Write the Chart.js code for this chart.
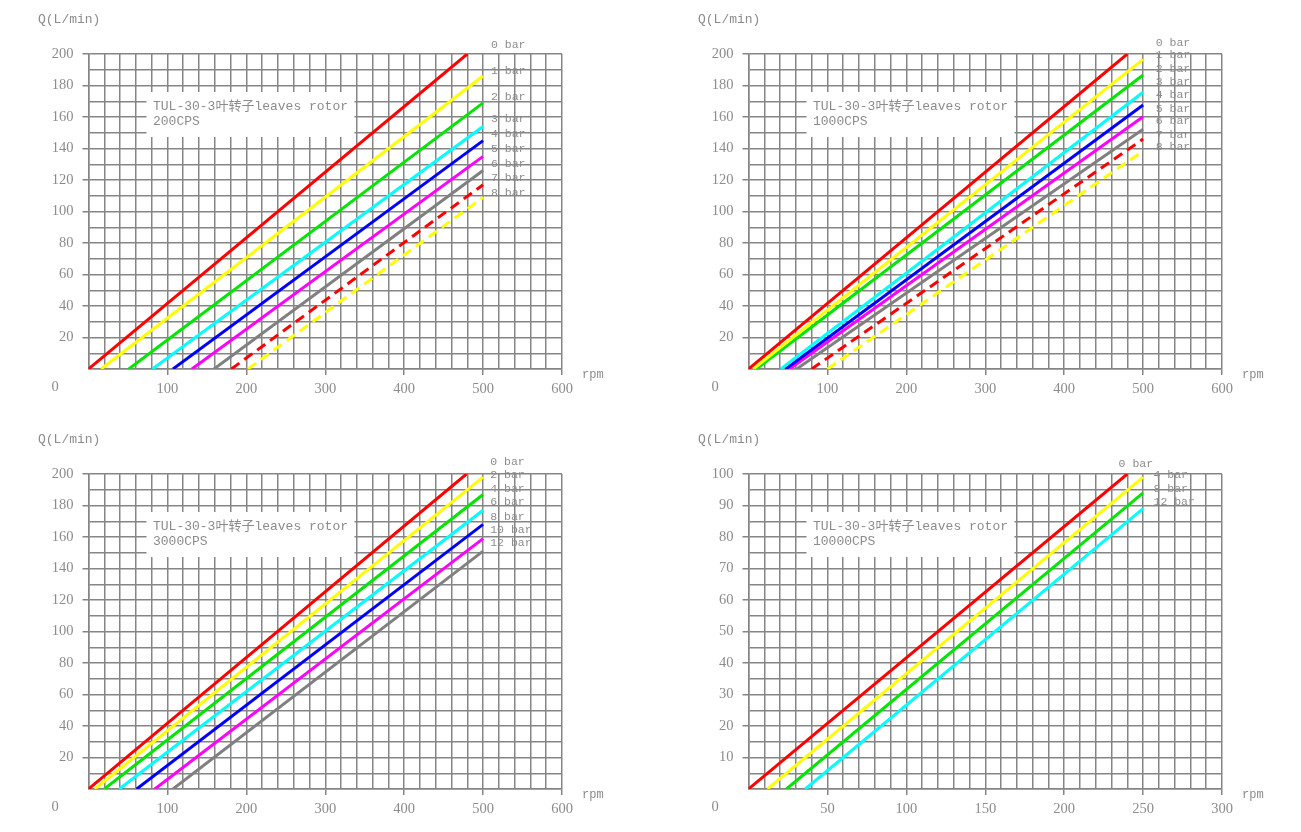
<!DOCTYPE html>
<html><head><meta charset="utf-8">
<script src="https://cdn.jsdelivr.net/npm/chart.js@4.4.1/dist/chart.umd.min.js"></script>
<style>
html,body{margin:0;padding:0;background:#fff;width:1301px;height:832px;overflow:hidden}
canvas{position:absolute}
</style></head><body>
<canvas id="c1" width="650" height="416" style="left:0px;top:0px"></canvas>
<canvas id="c2" width="650" height="416" style="left:660px;top:0px"></canvas>
<canvas id="c3" width="650" height="416" style="left:0px;top:420px"></canvas>
<canvas id="c4" width="650" height="416" style="left:660px;top:420px"></canvas>
<script>
// ---------- shared text ----------
const modelName = 'TUL-30-3叶转子leaves rotor';
const yAxisTitle = 'Q(L/min)';
const xAxisTitle = 'rpm';

// ---------- chart 1 : 200CPS ----------
const c1Viscosity = '200CPS';
const c1Pressures = ['0 bar','1 bar','2 bar','3 bar','4 bar','5 bar','6 bar','7 bar','8 bar'];
const c1StartRpm  = [0, 16, 51, 81, 107, 131, 159, 181, 202];
const c1EndRpm    = [480, 500, 500, 500, 500, 500, 500, 500, 500];
const c1EndFlow   = [200, 186, 169, 154, 145, 135, 126, 117, 109];
const c1LabelRpm  = [510, 510, 510, 510, 510, 510, 510, 510, 510];
const c1LabelFlow = [206, 189, 173, 159, 149, 140, 130, 121, 112];

// ---------- chart 2 : 1000CPS ----------
const c2Viscosity = '1000CPS';
const c2Pressures = ['0 bar','1 bar','2 bar','3 bar','4 bar','5 bar','6 bar','7 bar','8 bar'];
const c2StartRpm  = [0, 6, 10, 41, 47, 52, 61, 80, 100];
const c2EndRpm    = [480, 500, 500, 500, 500, 500, 500, 500, 500];
const c2EndFlow   = [200, 196.6, 186.7, 175.7, 167.6, 160.2, 152.2, 146, 138.4];
const c2LabelRpm  = [516, 516, 516, 516, 516, 516, 516, 516, 516];
const c2LabelFlow = [207, 199.4, 190.5, 182.4, 174, 165, 157.5, 148.6, 140.8];

// ---------- chart 3 : 3000CPS ----------
const c3Viscosity = '3000CPS';
const c3Pressures = ['0 bar','2 bar','4 bar','6 bar','8 bar','10 bar','12 bar'];
const c3StartRpm  = [0, 8, 20, 39, 61, 84, 107];
const c3EndRpm    = [479, 500, 500, 500, 500, 500, 500];
const c3EndFlow   = [200, 198, 187, 177, 168, 159, 151];
const c3LabelRpm  = [509, 509, 509, 509, 509, 509, 509];
const c3LabelFlow = [207.5, 199.4, 190.3, 182, 173, 164.4, 156];

// ---------- chart 4 : 10000CPS ----------
const c4Viscosity = '10000CPS';
const c4Pressures = ['0 bar','4 bar','8 bar','12 bar'];
const c4StartRpm  = [0, 12, 24, 36];
const c4EndRpm    = [240, 250, 250, 250];
const c4EndFlow   = [100, 99, 94, 89];
const c4LabelRpm  = [234.5, 256.6, 256.6, 256.6];
const c4LabelFlow = [103.2, 99.6, 95.2, 91.2];

// ---------- axis ranges ----------
const axesA = { xMax: 600, xGrid: 20, xLabelEvery: 100, yMax: 200, yGrid: 10, yLabelEvery: 20 };
const axesB = { xMax: 300, xGrid: 10, xLabelEvery: 50,  yMax: 100, yGrid: 5,  yLabelEvery: 10 };

// ---------- styles ----------
const colors9 = ['#ff0000','#ffff00','#00e600','#00ffff','#0000ff','#ff00ff','#808080','#ff0000','#ffff00'];
const dashes9 = [false,false,false,false,false,false,false,true,true];
const gridColor = '#858585';
const textColor = '#8c8c8c';
const monoFont = '"Liberation Mono","Noto Sans CJK SC",monospace';
const numFont = '"Liberation Serif","DejaVu Serif",serif';

const overlay = {
  id: 'overlay',
  beforeDatasetsDraw(chart, args, o) {
    const a = chart.chartArea, ctx = chart.ctx;
    ctx.save();
    ctx.fillStyle = '#ffffff';
    ctx.fillRect(a.left + 58, a.top + 38, 208, 45);
    ctx.fillStyle = textColor;
    ctx.font = '13px ' + monoFont;
    ctx.textBaseline = 'middle';
    ctx.textAlign = 'left';
    ctx.fillText(modelName, a.left + 64.5, a.top + 52.5);
    ctx.fillText(o.visc, a.left + 64.5, a.top + 68);
    ctx.restore();
  },
  afterDraw(chart, args, o) {
    const a = chart.chartArea, ctx = chart.ctx;
    const xs = chart.scales.x, ys = chart.scales.y;
    ctx.save();
    ctx.fillStyle = textColor;
    ctx.textBaseline = 'middle';
    ctx.textAlign = 'left';
    ctx.font = '11.5px ' + monoFont;
    o.labels.forEach((t, i) => {
      ctx.fillText(t, xs.getPixelForValue(o.lx[i]), ys.getPixelForValue(o.ly[i]));
    });
    ctx.font = '13px ' + monoFont;
    ctx.fillText(yAxisTitle, a.left - 50.5, a.top - 34);
    ctx.font = '12px ' + monoFont;
    ctx.fillText(xAxisTitle, a.right + 20, a.bottom + 6);
    ctx.font = '14.5px ' + numFont;
    ctx.textAlign = 'center';
    ctx.fillText('0', a.left - 33.5, a.bottom + 18.5);
    ctx.restore();
  }
};

function makeChart(id, visc, names, starts, ends, flows, lx, ly, ax) {
  const datasets = names.map((n, i) => ({
    label: n,
    data: [{x: starts[i], y: 0}, {x: ends[i], y: flows[i]}],
    borderColor: colors9[i],
    backgroundColor: colors9[i],
    borderWidth: 3,
    borderDash: dashes9[i] ? [10, 6] : [],
    pointRadius: 0,
    fill: false,
    tension: 0
  }));
  return new Chart(document.getElementById(id), {
    type: 'line',
    data: { datasets },
    options: {
      responsive: false,
      animation: false,
      devicePixelRatio: 1,
      layout: { padding: { left: 28.5, top: 54, right: 88, bottom: 7 } },
      plugins: {
        legend: { display: false },
        tooltip: { enabled: false },
        overlay: { visc, labels: names, lx, ly }
      },
      scales: {
        x: {
          type: 'linear', min: 0, max: ax.xMax,
          afterFit(s) { s.height = 40; },
          grid: {
            color: gridColor, lineWidth: 1.5, tickLength: 6,
            tickColor: c => (c.tick && c.tick.value % ax.xLabelEvery === 0 && c.tick.value !== 0) ? gridColor : 'rgba(0,0,0,0)'
          },
          border: { color: gridColor, width: 1.5 },
          ticks: {
            stepSize: ax.xGrid, autoSkip: false, maxRotation: 0, padding: 5,
            color: textColor, font: { family: numFont, size: 14.5 },
            callback: v => (v % ax.xLabelEvery === 0 && v !== 0) ? String(v) : ''
          }
        },
        y: {
          type: 'linear', min: 0, max: ax.yMax,
          afterFit(s) { s.width = 60; },
          grid: {
            color: gridColor, lineWidth: 1.5, tickLength: 6,
            tickColor: c => (c.tick && c.tick.value % ax.yLabelEvery === 0 && c.tick.value !== 0) ? gridColor : 'rgba(0,0,0,0)'
          },
          border: { color: gridColor, width: 1.5 },
          ticks: {
            stepSize: ax.yGrid, autoSkip: false, padding: 9,
            color: textColor, font: { family: numFont, size: 14.5 },
            callback: v => (v % ax.yLabelEvery === 0 && v !== 0) ? String(v) : ''
          }
        }
      }
    },
    plugins: [overlay]
  });
}

makeChart('c1', c1Viscosity, c1Pressures, c1StartRpm, c1EndRpm, c1EndFlow, c1LabelRpm, c1LabelFlow, axesA);
makeChart('c2', c2Viscosity, c2Pressures, c2StartRpm, c2EndRpm, c2EndFlow, c2LabelRpm, c2LabelFlow, axesA);
makeChart('c3', c3Viscosity, c3Pressures, c3StartRpm, c3EndRpm, c3EndFlow, c3LabelRpm, c3LabelFlow, axesA);
makeChart('c4', c4Viscosity, c4Pressures, c4StartRpm, c4EndRpm, c4EndFlow, c4LabelRpm, c4LabelFlow, axesB);
</script>
</body></html>
